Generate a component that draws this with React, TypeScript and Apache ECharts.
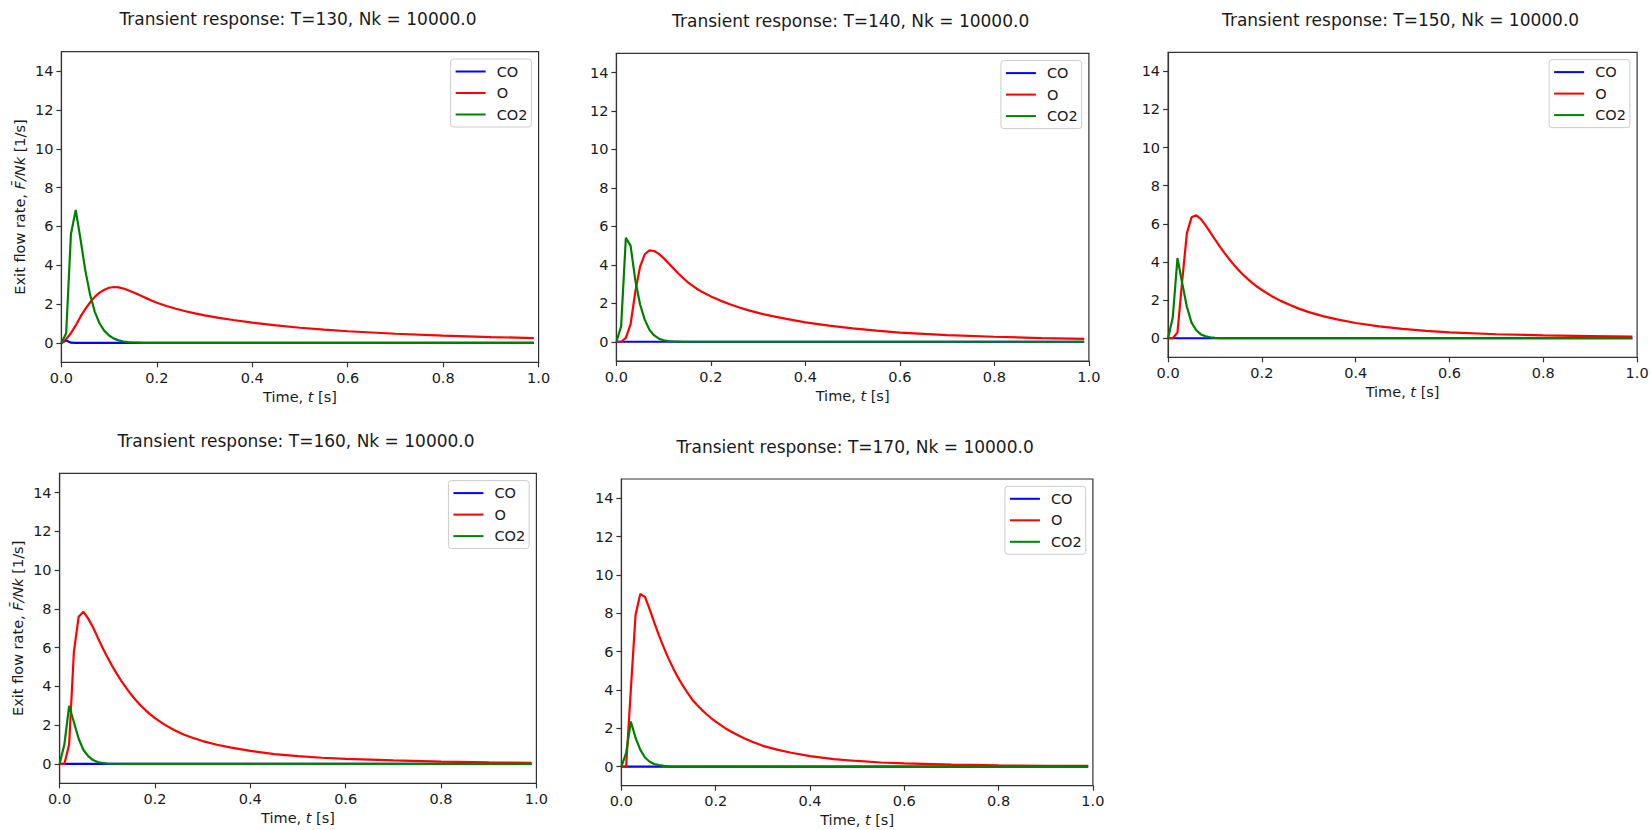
import React, { useEffect, useRef } from "react";
import * as echarts from "echarts";

// Sample times (s)
const TIMES = [
  0, 0.01, 0.02, 0.03, 0.04, 0.05, 0.06, 0.07, 0.08, 0.09, 0.1, 0.11, 0.12, 0.13, 0.14, 0.15,
  0.16, 0.17, 0.18, 0.19, 0.2, 0.22, 0.24, 0.26, 0.28, 0.3, 0.33, 0.36, 0.4, 0.45, 0.5, 0.55,
  0.6, 0.7, 0.8, 0.9, 0.99,
];

const TEMPS = [130, 140, 150, 160, 170];
const SPECIES = ["CO", "O", "CO2"];
const X_TICKS = [0, 0.2, 0.4, 0.6, 0.8, 1.0];
const Y_TICKS = [0, 2, 4, 6, 8, 10, 12, 14];

// T = 130
const CO_130 = [0, 0.12, 0.01, 0, 0, 0, 0, 0, 0, 0, 0, 0, 0, 0, 0, 0, 0, 0, 0, 0, 0, 0, 0, 0, 0, 0, 0, 0, 0, 0, 0, 0, 0, 0, 0, 0, 0];
const O_130 = [0, 0.2, 0.5, 0.9, 1.35, 1.74, 2.08, 2.37, 2.59, 2.74, 2.84, 2.88, 2.86, 2.8, 2.71, 2.61, 2.5, 2.39, 2.28, 2.17, 2.07, 1.9, 1.76, 1.63, 1.52, 1.42, 1.29, 1.18, 1.04, 0.9, 0.78, 0.68, 0.6, 0.47, 0.37, 0.3, 0.25];
const CO2_130 = [0, 0.5, 5.6, 6.85, 5.35, 3.75, 2.5, 1.6, 1.0, 0.62, 0.38, 0.22, 0.13, 0.07, 0.04, 0.02, 0.01, 0, 0, 0, 0, 0, 0, 0, 0, 0, 0, 0, 0, 0, 0, 0, 0, 0, 0, 0, 0];

// T = 140
const CO_140 = [0, 0, 0, 0, 0, 0, 0, 0, 0, 0, 0, 0, 0, 0, 0, 0, 0, 0, 0, 0, 0, 0, 0, 0, 0, 0, 0, 0, 0, 0, 0, 0, 0, 0, 0, 0, 0];
const O_140 = [0, 0, 0.2, 0.9, 2.6, 3.9, 4.55, 4.75, 4.72, 4.57, 4.35, 4.1, 3.84, 3.58, 3.34, 3.12, 2.93, 2.76, 2.61, 2.48, 2.36, 2.14, 1.95, 1.78, 1.63, 1.5, 1.33, 1.19, 1.01, 0.84, 0.7, 0.58, 0.48, 0.35, 0.26, 0.19, 0.15];
const CO2_140 = [0, 0.8, 5.4, 5.0, 3.2, 1.95, 1.15, 0.62, 0.33, 0.16, 0.08, 0.04, 0.02, 0.01, 0, 0, 0, 0, 0, 0, 0, 0, 0, 0, 0, 0, 0, 0, 0, 0, 0, 0, 0, 0, 0, 0, 0];

// T = 150
const CO_150 = [0, 0, 0, 0, 0, 0, 0, 0, 0, 0, 0, 0, 0, 0, 0, 0, 0, 0, 0, 0, 0, 0, 0, 0, 0, 0, 0, 0, 0, 0, 0, 0, 0, 0, 0, 0, 0];
const O_150 = [0, 0, 0.3, 3.0, 5.5, 6.35, 6.45, 6.25, 5.92, 5.55, 5.18, 4.82, 4.48, 4.16, 3.86, 3.58, 3.33, 3.1, 2.89, 2.7, 2.53, 2.22, 1.96, 1.74, 1.54, 1.37, 1.16, 0.99, 0.8, 0.62, 0.49, 0.39, 0.31, 0.21, 0.15, 0.11, 0.08];
const CO2_150 = [0, 1.1, 4.2, 2.9, 1.65, 0.82, 0.42, 0.2, 0.1, 0.05, 0.02, 0.01, 0, 0, 0, 0, 0, 0, 0, 0, 0, 0, 0, 0, 0, 0, 0, 0, 0, 0, 0, 0, 0, 0, 0, 0, 0];

// T = 160
const CO_160 = [0, 0, 0, 0, 0, 0, 0, 0, 0, 0, 0, 0, 0, 0, 0, 0, 0, 0, 0, 0, 0, 0, 0, 0, 0, 0, 0, 0, 0, 0, 0, 0, 0, 0, 0, 0, 0];
const O_160 = [0, 0, 1.0, 5.8, 7.6, 7.85, 7.5, 7.05, 6.52, 6.0, 5.52, 5.07, 4.65, 4.26, 3.91, 3.58, 3.29, 3.02, 2.78, 2.56, 2.36, 2.03, 1.75, 1.52, 1.34, 1.18, 0.99, 0.84, 0.67, 0.51, 0.4, 0.32, 0.26, 0.18, 0.12, 0.08, 0.06];
const CO2_160 = [0, 1.0, 3.0, 2.15, 1.3, 0.72, 0.4, 0.2, 0.1, 0.05, 0.02, 0.01, 0, 0, 0, 0, 0, 0, 0, 0, 0, 0, 0, 0, 0, 0, 0, 0, 0, 0, 0, 0, 0, 0, 0, 0, 0];

// T = 170
const CO_170 = [0, 0, 0, 0, 0, 0, 0, 0, 0, 0, 0, 0, 0, 0, 0, 0, 0, 0, 0, 0, 0, 0, 0, 0, 0, 0, 0, 0, 0, 0, 0, 0, 0, 0, 0, 0, 0];
const O_170 = [0, 0, 4.0, 7.9, 9.0, 8.85, 8.2, 7.5, 6.82, 6.2, 5.63, 5.12, 4.65, 4.23, 3.85, 3.5, 3.22, 2.97, 2.74, 2.53, 2.34, 2.0, 1.72, 1.48, 1.27, 1.08, 0.88, 0.72, 0.54, 0.39, 0.29, 0.21, 0.16, 0.1, 0.06, 0.04, 0.03];
const CO2_170 = [0, 0.7, 2.35, 1.5, 0.88, 0.47, 0.25, 0.13, 0.07, 0.03, 0.01, 0, 0, 0, 0, 0, 0, 0, 0, 0, 0, 0, 0, 0, 0, 0, 0, 0, 0, 0, 0, 0, 0, 0, 0, 0, 0];

const PANEL_DATA = [
  [CO_130, O_130, CO2_130],
  [CO_140, O_140, CO2_140],
  [CO_150, O_150, CO2_150],
  [CO_160, O_160, CO2_160],
  [CO_170, O_170, CO2_170],
];

const COLORS = ["#0000ff", "#ff0000", "#008000"];
const FONT = "DejaVu Sans";

// plot-area boxes in px (left, top, width, height)
const BOXES = [
  { l: 61.4, t: 51.7, w: 477.2, h: 310.6, yName: true },
  { l: 616.4, t: 53.3, w: 472.5, h: 307.7, yName: false },
  { l: 1168.1, t: 52.3, w: 469, h: 305, yName: false },
  { l: 59.6, t: 473.3, w: 476.8, h: 310, yName: true },
  { l: 621.4, t: 479, w: 471.5, h: 306.7, yName: false },
];

const W = 1652;
const H = 830;
const AXIS_COLOR = "#333333";
const TEXT_COLOR = "#1a1a1a";

function buildOption() {
  const grid: any[] = [];
  const xAxis: any[] = [];
  const yAxis: any[] = [];
  const series: any[] = [];
  const title: any[] = [];
  const legend: any[] = [];

  BOXES.forEach((b, i) => {
    grid.push({
      left: b.l,
      top: b.t,
      width: b.w,
      height: b.h,
      show: true,
      borderColor: AXIS_COLOR,
      borderWidth: 1.2,
      backgroundColor: "transparent",
      containLabel: false,
    });
    xAxis.push({
      gridIndex: i,
      type: "value",
      min: 0,
      max: 1,
      interval: 0.2,
      name: "Time, {i|t} [s]",
      nameLocation: "middle",
      nameGap: 27,
      nameTextStyle: {
        fontFamily: FONT,
        fontSize: 14.5,
        color: TEXT_COLOR,
        rich: { i: { fontStyle: "italic", fontFamily: FONT, fontSize: 14.5, color: TEXT_COLOR } },
      },
      axisLine: { show: true, onZero: false, lineStyle: { color: AXIS_COLOR, width: 1.2 } },
      axisTick: { show: true, length: 5, inside: false, lineStyle: { color: AXIS_COLOR, width: 1.2 } },
      axisLabel: {
        fontFamily: FONT,
        fontSize: 14.5,
        color: TEXT_COLOR,
        margin: 8,
        customValues: X_TICKS,
        formatter: (v: number) => v.toFixed(1),
      },
      splitLine: { show: false },
    });
    yAxis.push({
      gridIndex: i,
      type: "value",
      min: -1,
      max: 15,
      interval: 1,
      name: b.yName ? "Exit flow rate, {i|F\u0304/Nk} [1/s]" : "",
      nameLocation: "middle",
      nameGap: 34,
      nameTextStyle: {
        fontFamily: FONT,
        fontSize: 14.5,
        color: TEXT_COLOR,
        rich: { i: { fontStyle: "italic", fontFamily: FONT, fontSize: 14.5, color: TEXT_COLOR } },
      },
      axisLine: { show: true, onZero: false, lineStyle: { color: AXIS_COLOR, width: 1.2 } },
      axisTick: { show: true, length: 5, customValues: Y_TICKS, lineStyle: { color: AXIS_COLOR, width: 1.2 } },
      axisLabel: {
        fontFamily: FONT,
        fontSize: 14.5,
        color: TEXT_COLOR,
        margin: 8,
        customValues: Y_TICKS,
        formatter: (v: number) => String(v),
      },
      splitLine: { show: false },
    });
    title.push({
      text: `Transient response: T=${TEMPS[i]}, Nk = 10000.0`,
      left: b.l + b.w / 2 - 2,
      top: b.t - 41,
      textAlign: "center",
      padding: 0,
      textStyle: { fontFamily: FONT, fontSize: 17, fontWeight: "normal", color: TEXT_COLOR },
    });
    legend.push({
      orient: "vertical",
      right: W - (b.l + b.w - 7.2),
      top: b.t + 7.3,
      padding: [5, 4, 5, 5],
      itemGap: 6.5,
      itemWidth: 30,
      itemHeight: 2,
      icon: "rect",
      backgroundColor: "rgba(255,255,255,0.8)",
      borderColor: "#cccccc",
      borderWidth: 1,
      borderRadius: 3,
      selectedMode: false,
      data: SPECIES,
      textStyle: { fontFamily: FONT, fontSize: 14.5, color: TEXT_COLOR, padding: [0, 0, 0, 6] },
    });
    PANEL_DATA[i].forEach((vals, k) => {
      series.push({
        type: "line",
        name: SPECIES[k],
        xAxisIndex: i,
        yAxisIndex: i,
        data: TIMES.map((t, j) => [t, vals[j]]),
        symbol: "none",
        showSymbol: false,
        smooth: false,
        clip: true,
        color: COLORS[k],
        itemStyle: { color: COLORS[k] },
        lineStyle: { color: COLORS[k], width: 2.2 },
        emphasis: { disabled: true },
      });
    });
  });

  return {
    animation: false,
    backgroundColor: "#ffffff",
    textStyle: { fontFamily: FONT },
    title,
    legend,
    grid,
    xAxis,
    yAxis,
    series,
  };
}

export default function App() {
  const ref = useRef<HTMLDivElement>(null);
  useEffect(() => {
    if (!ref.current) return;
    const chart = echarts.init(ref.current, undefined, { renderer: "svg", width: W, height: H });
    chart.setOption(buildOption() as any);
    return () => {
      chart.dispose();
    };
  }, []);
  return (
    <div
      ref={ref}
      style={{ position: "absolute", left: 0, top: 0, width: W, height: H, background: "#fff" }}
    />
  );
}
